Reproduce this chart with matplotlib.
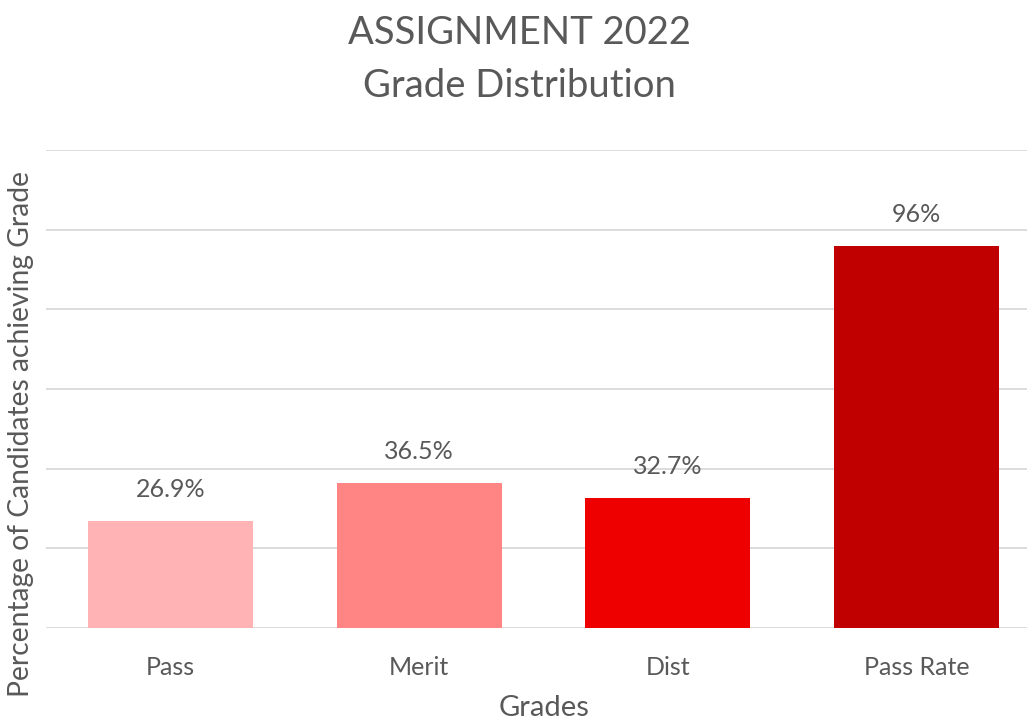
import matplotlib
matplotlib.use("Agg")
import matplotlib.pyplot as plt

categories = ["Pass", "Merit", "Dist", "Pass Rate"]
values = [26.9, 36.5, 32.7, 96]
labels = ["26.9%", "36.5%", "32.7%", "96%"]
colors = ["#FFB3B5", "#FF8585", "#EE0000", "#C00000"]

plt.rcParams['font.family'] = ['Lato', 'DejaVu Sans']
txt = "#595959"

fig = plt.figure(figsize=(10.27, 7.23), dpi=100)
W, H = 1027, 723
left, right = 46 / W, 1041 / W
bottom, top = (H - 628) / H, (H - 150) / H
ax = fig.add_axes([left, bottom, right - left, top - bottom])

x = range(len(categories))
bars = ax.bar(x, values, width=0.663, color=colors, zorder=3)
for b, lab in zip(bars, labels):
    ax.text(b.get_x() + b.get_width() / 2, b.get_height() + 5.0, lab,
            ha="center", va="bottom", fontsize=18, color=txt)

ax.set_xlim(-0.5, 3.5)
ax.set_ylim(0, 120)
ax.set_yticks(range(0, 121, 20))
ax.yaxis.grid(True, color="#D9D9D9", linewidth=1.3, zorder=0)
ax.set_yticklabels([])
ax.tick_params(axis="y", length=0)
ax.tick_params(axis="x", length=0, pad=20, labelsize=18, labelcolor=txt)
ax.set_xticks(list(x))
ax.set_xticklabels(categories)
for s in ax.spines.values():
    s.set_visible(False)

fig.text(519 / W, 1 - 33 / H, "ASSIGNMENT 2022", ha="center", va="center", fontsize=27.5, color=txt)
fig.text(519 / W, 1 - 86 / H, "Grade Distribution", ha="center", va="center", fontsize=27.5, color=txt)
fig.text(544 / W, 1 - 708 / H, "Grades", ha="center", va="center", fontsize=21, color=txt)
fig.text(21 / W, 1 - 434 / H, "Percentage of Candidates achieving Grade", ha="center", va="center",
         rotation=90, fontsize=20.3, color=txt)

fig.savefig("out.png", dpi=100)
